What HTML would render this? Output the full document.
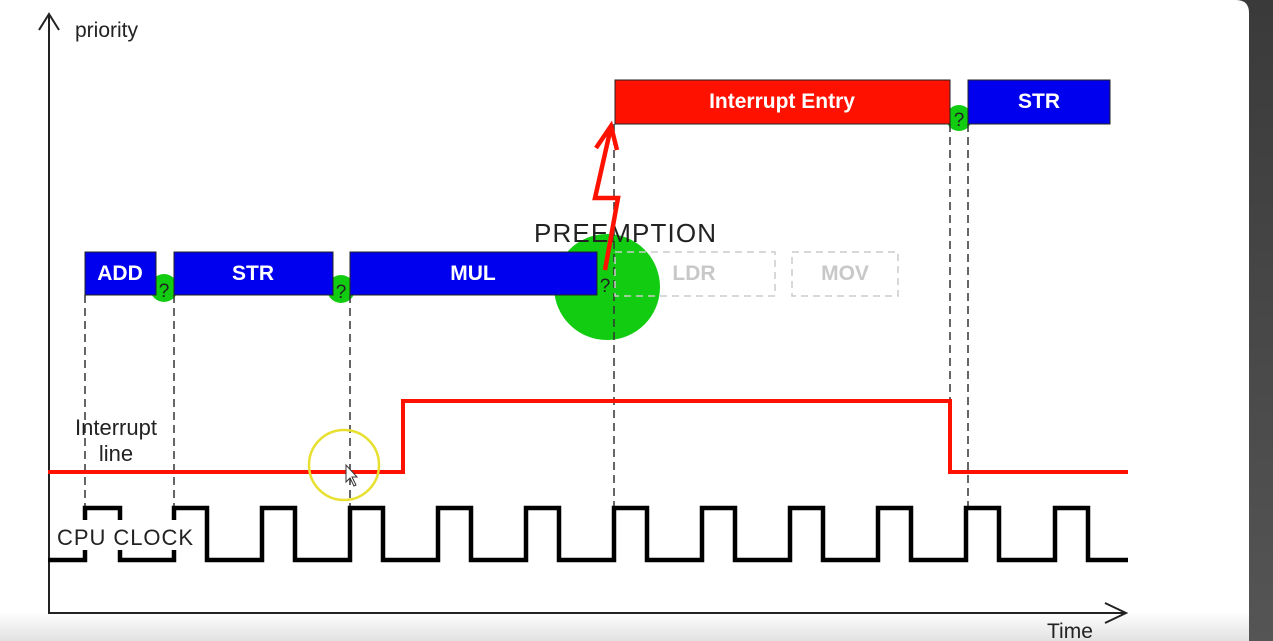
<!DOCTYPE html>
<html><head><style>
html,body{margin:0;padding:0;background:#4a4a4a;}
body{width:1273px;height:641px;overflow:hidden;position:relative;}
</style></head><body>
<svg width="1273" height="641" xmlns="http://www.w3.org/2000/svg" style="position:absolute;left:0;top:0">
<defs><linearGradient id="g" x1="0" y1="0" x2="0" y2="1"><stop offset="0" stop-color="#fff"/><stop offset="1" stop-color="#e2e2e2"/></linearGradient>
<linearGradient id="d" x1="0" y1="0" x2="0" y2="1"><stop offset="0" stop-color="#3a3a3a"/><stop offset="1" stop-color="#555"/></linearGradient></defs>
<rect x="0" y="0" width="1273" height="641" fill="url(#d)"/>
<path d="M0,0 H1236 Q1249,0 1249,13 V641 H0 Z" fill="#fff"/>
<rect x="0" y="612" width="1249" height="29" fill="url(#g)"/>
<g font-family="Liberation Sans, Arial, sans-serif">
<path d="M49,15 V613 H1125" stroke="#222" stroke-width="2" fill="none"/>
<path d="M39,30 L49,14 L59,30" stroke="#222" stroke-width="2" fill="none"/>
<path d="M1105,603 L1126,613 L1105,623" stroke="#222" stroke-width="2" fill="none"/>
<text x="75" y="37" font-size="21" fill="#222">priority</text>
<text x="1047" y="638" font-size="21" fill="#222">Time</text>
<g fill="#11cc11">
<circle cx="164" cy="288" r="14"/><circle cx="341" cy="289" r="14"/>
<circle cx="607" cy="287" r="53"/><circle cx="959" cy="118" r="13"/>
</g>
<g stroke="#333" stroke-width="1.5" stroke-dasharray="8,5" fill="none">
<path d="M85,295 V508 M174,295 V508 M350,295 V508 M614,124 V508 M950,124 V472 M968,124 V508"/>
</g>
<g stroke="#222" stroke-width="1">
<rect x="85" y="252" width="71" height="43" fill="#0000ee"/>
<rect x="174" y="252" width="159" height="43" fill="#0000ee"/>
<rect x="350" y="252" width="247" height="43" fill="#0000ee"/>
<rect x="615" y="80" width="335" height="44" fill="#ff1100"/>
<rect x="968" y="80" width="142" height="44" fill="#0000ee"/>
</g>
<g font-weight="bold" font-size="21" text-anchor="middle" fill="#fff">
<text x="120" y="280">ADD</text><text x="253" y="280">STR</text><text x="473" y="280">MUL</text>
<text x="782" y="108">Interrupt Entry</text><text x="1039" y="108">STR</text>
</g>
<g stroke="#ccc" stroke-width="1.5" stroke-dasharray="7,5" fill="none">
<rect x="615" y="252" width="160" height="44"/><rect x="792" y="252" width="106" height="44"/>
</g>
<g font-weight="bold" font-size="21" text-anchor="middle" fill="#c8c8c8">
<text x="694" y="280">LDR</text><text x="845" y="280">MOV</text>
</g>
<g font-size="19" fill="#222" text-anchor="middle">
<text x="164" y="297">?</text><text x="341" y="298">?</text><text x="605" y="292">?</text><text x="959" y="126">?</text>
</g>
<text x="534" y="242" font-size="26" fill="#222" textLength="182">PREEMPTION</text>
<path d="M605,270 L618,198 L595,198 L611,127 M596,148 L611,126 L617,150" stroke="#ff1100" stroke-width="4.5" fill="none"/>
<path d="M48,472 H403 V401 H950 V472 H1128" stroke="#ff1100" stroke-width="4" fill="none"/>
<text x="116" y="435" font-size="22" fill="#222" text-anchor="middle">Interrupt</text>
<text x="116" y="461" font-size="22" fill="#222" text-anchor="middle">line</text>
<path d="M48,560 H85 V508 H120 V560 H174 V508 H207 V560 H262 V508 H295 V560 H350 V508 H383 V560 H438 V508 H471 V560 H526 V508 H559 V560 H614 V508 H647 V560 H702 V508 H735 V560 H790 V508 H823 V560 H878 V508 H911 V560 H966 V508 H999 V560 H1055 V508 H1088 V560 H1128" stroke="#000" stroke-width="4.5" fill="none"/>
<rect x="56" y="520" width="138" height="30" fill="#fff"/>
<text x="57" y="545" font-size="22" fill="#222" textLength="136">CPU CLOCK</text>
<circle cx="344" cy="465" r="35" stroke="#e8e030" stroke-width="2.5" fill="none"/>
<path d="M346,465 V482 L350,478 L354,486 L356,485 L352,477 L357,477 Z" fill="#fff" stroke="#333" stroke-width="1"/>
</g>
</svg>
</body></html>
